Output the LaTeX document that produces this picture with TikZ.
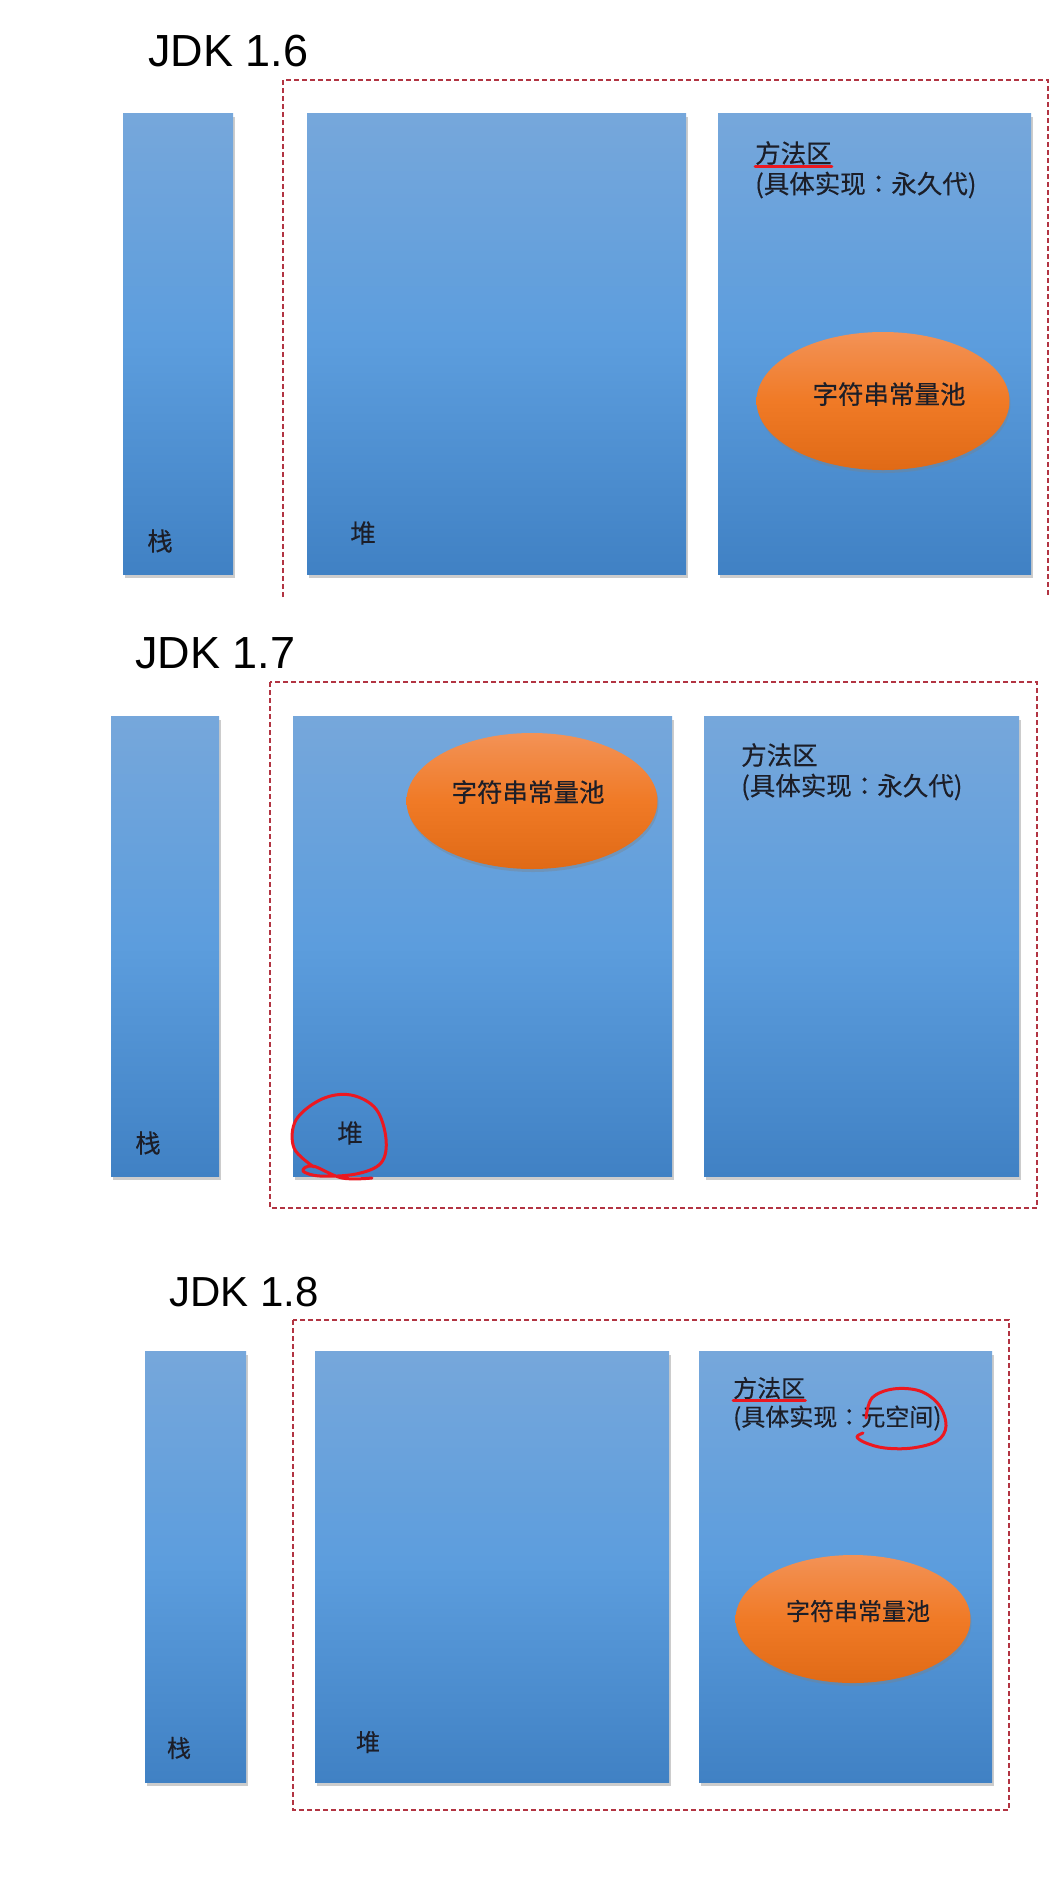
\documentclass[tikz,border=0pt]{standalone}
\usepackage{fontspec}
\setmainfont{Liberation Sans}
\newfontfamily\cjk[FakeBold=0.3]{Noto Sans CJK SC}
\newfontfamily\cjkpunct[FakeBold=0.3]{Noto Sans CJK JP}
\usepackage{tikz}
\usetikzlibrary{shapes.geometric, shadows}

\definecolor{boxtop}{RGB}{118,167,219}
\definecolor{boxmid}{RGB}{92,157,221}
\definecolor{boxbot}{RGB}{64,129,196}
\definecolor{pooltop}{RGB}{243,146,86}
\definecolor{poolmid}{RGB}{240,122,38}
\definecolor{poolbot}{RGB}{224,106,22}
\definecolor{framered}{RGB}{178,52,66}
\definecolor{annored}{RGB}{236,24,32}
\definecolor{textcol}{RGB}{28,30,40}

\newcommand{\wide}{{\cjkpunct ：}}

\tikzstyle{area} = [rectangle, inner sep=0pt, top color=boxtop, bottom color=boxbot, middle color=boxmid, drop shadow={shadow xshift=1.5pt, shadow yshift=-4pt, opacity=0.4}]
\tikzstyle{pool} = [ellipse, inner sep=0pt, top color=pooltop, bottom color=poolbot, middle color=poolmid, drop shadow={shadow xshift=1pt, shadow yshift=-3pt, opacity=0.35}]
\tikzstyle{frame} = [draw=framered, line width=2pt, dash pattern=on 5pt off 3pt]
\tikzstyle{scribble} = [draw=annored, line width=3pt, line cap=round, line join=round]
\tikzstyle{title} = [anchor=west, inner sep=0pt, text=black, font=\fontsize{45}{54}\selectfont]
\tikzstyle{tag} = [inner sep=0pt, text=textcol, font=\cjk\fontsize{25.5}{30}\selectfont]
\tikzstyle{tagsm} = [tag, font=\cjk\fontsize{24}{28}\selectfont]

\begin{document}
\begin{tikzpicture}[x=1pt, y=-1pt]

\fill [white] (0,0) rectangle (1057,1880);
\useasboundingbox (0,0) rectangle (1057,1880);

% JDK 1.6
\node (title16) [title] at (148,51) {JDK 1.6};
\draw [frame] (283,597) |- (1048,80) -- (1048,597);
\node (stack16) [area, minimum width=110pt, minimum height=461pt] at (178,343.5) {};
\node (heap16) [area, minimum width=379pt, minimum height=461pt] at (496.5,343.5) {};
\node (method16) [area, minimum width=313pt, minimum height=461pt] at (874.5,343.5) {};
\node (pool16) [pool, minimum width=253pt, minimum height=138pt] at (883,401) {};
\node (pooltext16) [tag] at (889,394) {字符串常量池};
\node (stacktext16) [tag] at (160,541) {栈};
\node (heaptext16) [tag] at (363,533) {堆};
\node (mname16) [tag, anchor=west] at (755,153) {方法区};
\node (mimpl16) [tag, anchor=west] at (755,185) {(具体实现\wide 永久代)};
\draw [scribble] ([yshift=-1pt]mname16.south west) -- ([yshift=-1pt]mname16.south east);

% JDK 1.7
\node (title17) [title] at (135,653) {JDK 1.7};
\draw [frame] (270,682) rectangle (1037,1208);
\node (stack17) [area, minimum width=108pt, minimum height=460pt] at (165,946) {};
\node (heap17) [area, minimum width=379pt, minimum height=460pt] at (482.5,946) {};
\node (method17) [area, minimum width=315pt, minimum height=460pt] at (861.5,946) {};
\node (pool17) [pool, minimum width=251pt, minimum height=136pt] at (532,801) {};
\node (pooltext17) [tag] at (528,792) {字符串常量池};
\node (stacktext17) [tag] at (148,1143) {栈};
\node (heaptext17) [tag] at (350,1133) {堆};
\node (mname17) [tag, anchor=west] at (741,755) {方法区};
\node (mimpl17) [tag, anchor=west] at (741,787) {(具体实现\wide 永久代)};
\draw [scribble] plot [smooth, tension=0.6] coordinates {(314,1167) (294,1148) (296,1120) (322,1099) (351,1095) (376,1109) (386,1139) (381,1163) (356,1174) (320,1176) (303,1171) (313,1166) (342,1178) (372,1178)};

% JDK 1.8
\node (title18) [title, font=\fontsize{42}{50}\selectfont] at (169,1292) {JDK 1.8};
\draw [frame] (293,1320) rectangle (1009,1810);
\node (stack18) [area, minimum width=101pt, minimum height=431pt] at (195.5,1566.5) {};
\node (heap18) [area, minimum width=354pt, minimum height=431pt] at (492,1566.5) {};
\node (method18) [area, minimum width=293pt, minimum height=431pt] at (845.5,1566.5) {};
\node (pool18) [pool, minimum width=235pt, minimum height=128pt] at (853,1619) {};
\node (pooltext18) [tagsm] at (858,1611) {字符串常量池};
\node (stacktext18) [tagsm] at (179,1748) {栈};
\node (heaptext18) [tagsm] at (368,1742) {堆};
\node (mname18) [tagsm, anchor=west] at (733,1388) {方法区};
\node (mimpl18) [tagsm, anchor=west] at (733,1418) {(具体实现\wide 元空间)};
\draw [scribble] ([yshift=-1pt]mname18.south west) -- ([yshift=-1pt]mname18.south east);
\draw [scribble] plot [smooth, tension=0.6] coordinates {(866,1418) (872,1398) (893,1389) (920,1391) (939,1405) (946,1426) (937,1441) (912,1448) (885,1448) (866,1443) (857,1437) (863,1433)};

\end{tikzpicture}
\end{document}
